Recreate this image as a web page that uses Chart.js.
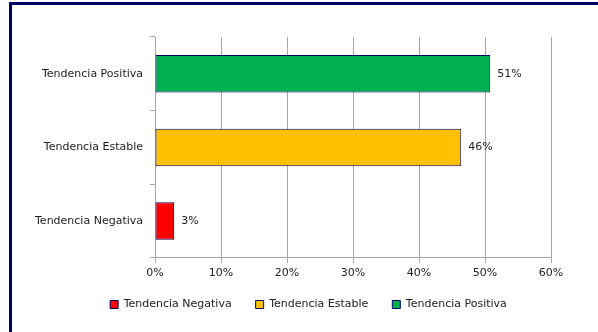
<!DOCTYPE html>
<html>
<head>
<meta charset="utf-8">
<script src="https://cdn.jsdelivr.net/npm/chart.js@4/dist/chart.umd.min.js"></script>
<style>
  html, body { margin: 0; padding: 0; background: #fff; }
  #marco { position: absolute; left: 9px; top: 2px; width: 586px; height: 340px;
           border-top: 3px solid #000066; border-left: 3px solid #000066; }
  #grafica { position: absolute; left: 0; top: 0; }
</style>
</head>
<body>
<div id="marco"></div>
<canvas id="grafica" width="598" height="332"></canvas>
<script>
// categorias del eje (de arriba a abajo) y series de la leyenda
const categorias = ['Tendencia Positiva', 'Tendencia Estable', 'Tendencia Negativa'];
const series = ['Tendencia Negativa', 'Tendencia Estable', 'Tendencia Positiva'];
const valores = [2.9, 46.4, 50.8];
const etiquetas = ['3%', '46%', '51%'];
const colores = ['#FF0000', '#FFC000', '#00B050'];
const maxEje = 60;
const pasoEje = 10;

const fuente = 'DejaVu Sans';

// cada serie solo tiene valor en su propia categoria
const datasets = series.map((s, i) => ({
  label: s,
  data: categorias.map(c => (c === s ? valores[i] : null)),
  backgroundColor: colores[i],
  borderColor: '#000066',
  borderWidth: 1,
  borderSkipped: false,
  categoryPercentage: 1,
  barPercentage: 0.51
}));

// etiquetas de valor al final de cada barra
const etiquetasBarra = {
  id: 'etiquetasBarra',
  afterDatasetsDraw(chart) {
    const ctx = chart.ctx;
    ctx.save();
    ctx.font = '11px "' + fuente + '"';
    ctx.fillStyle = '#222';
    ctx.textAlign = 'left';
    ctx.textBaseline = 'middle';
    chart.data.datasets.forEach((ds, i) => {
      const meta = chart.getDatasetMeta(i);
      meta.data.forEach((el, j) => {
        if (ds.data[j] == null) return;
        ctx.fillText(etiquetas[i], el.x + 7, el.y);
      });
    });
    ctx.restore();
  }
};

// mover la leyenda un poco (en el original no queda centrada con el grafico)
const moverLeyenda = {
  id: 'moverLeyenda',
  afterLayout(chart) {
    const l = chart.legend;
    if (!l) return;
    l.left += 33; l.right += 33;
    l.top -= 9; l.bottom -= 9;
  }
};

const ctx = document.getElementById('grafica').getContext('2d');
new Chart(ctx, {
  type: 'bar',
  data: { labels: categorias, datasets: datasets },
  options: {
    indexAxis: 'y',
    responsive: false,
    animation: false,
    layout: { padding: { top: 37, right: 47, bottom: 3, left: 0 } },
    scales: {
      x: {
        stacked: true,
        min: 0,
        max: maxEje,
        ticks: {
          stepSize: pasoEje,
          callback: v => v + '%',
          color: '#222',
          font: { family: fuente, size: 11 },
          padding: 4
        },
        grid: { color: '#A6A6A6', tickLength: 5, drawTicks: true },
        border: { color: '#A6A6A6' }
      },
      y: {
        stacked: true,
        ticks: {
          color: '#222',
          font: { family: fuente, size: 11 },
          padding: 7
        },
        grid: { drawOnChartArea: false, color: '#A6A6A6', tickLength: 5 },
        border: { color: '#A6A6A6' },
        afterFit: s => { s.width = 155; }
      }
    },
    plugins: {
      legend: {
        position: 'bottom',
        labels: {
          boxWidth: 8,
          boxHeight: 8,
          padding: 24,
          color: '#222',
          font: { family: fuente, size: 11 }
        }
      },
      tooltip: { enabled: false }
    }
  },
  plugins: [etiquetasBarra, moverLeyenda]
});
</script>
</body>
</html>
